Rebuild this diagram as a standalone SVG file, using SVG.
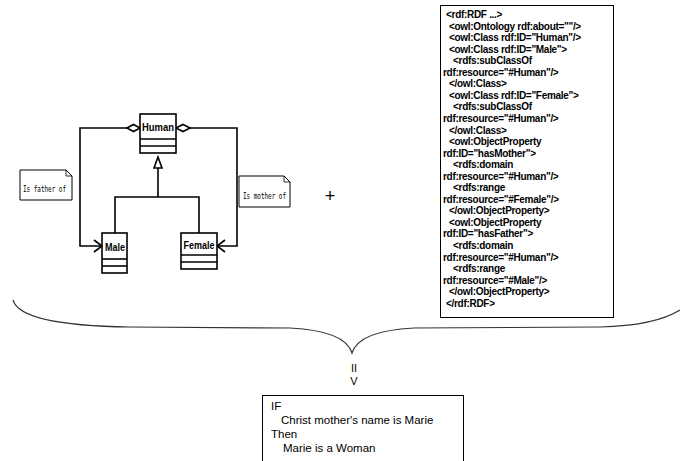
<svg xmlns="http://www.w3.org/2000/svg" width="680" height="461" viewBox="0 0 680 461">
<style>
.uml{fill:#fff;stroke:#000;stroke-width:1.6}
.ln{fill:none;stroke:#000;stroke-width:1.6}
.cls{font-family:"Liberation Sans",Arial,sans-serif;font-size:10px;font-weight:bold;fill:#000;text-anchor:middle}
.note{font-family:"DejaVu Sans Mono","Liberation Mono",monospace;font-size:9.5px;fill:#000}
.rdf{font-family:"Liberation Sans",Arial,sans-serif;font-size:10px;font-weight:bold;letter-spacing:-0.3px;fill:#000}
.rule{font-family:"Liberation Sans",Arial,sans-serif;font-size:11.5px;fill:#000}
</style>
<rect width="680" height="461" fill="#fff"/>

<g id="connectors">
  <!-- aggregation Human -> Male -->
  <polyline class="ln" points="127,128 80,128 80,246 102,246"/>
  <polyline class="ln" points="94,240 102,246 94,252"/>
  <polygon class="uml" points="127,128 133.5,124.5 140,128 133.5,131.5"/>
  <!-- aggregation Human -> Female -->
  <polyline class="ln" points="190,128 237,128 237,246 217,246"/>
  <polyline class="ln" points="225,240 217,246 225,252"/>
  <polygon class="uml" points="176,128 183,124.5 190,128 183,131.5"/>
  <!-- generalization -->
  <polyline class="ln" points="158,168 158,197"/>
  <polyline class="ln" points="115,233 115,197 199,197 199,233"/>
  <polygon class="uml" points="158,157 154,168 162,168"/>
  <!-- brace -->
  <path d="M13,300 C18,318 60,326 130,327 L290,328 C330,330 348,340 352,353 C356,340 374,330 414,328 L600,327 C640,326 664,320 680,310" fill="none" stroke="#333" stroke-width="1.2"/>
</g>

<g id="human">
  <rect class="uml" x="140" y="114" width="36" height="39"/>
  <line class="ln" x1="140" y1="139" x2="176" y2="139"/>
  <line class="ln" x1="140" y1="146" x2="176" y2="146"/>
  <text class="cls" x="158" y="131" textLength="32" lengthAdjust="spacingAndGlyphs">Human</text>
</g>
<g id="male">
  <rect class="uml" x="102" y="233" width="25" height="40"/>
  <line class="ln" x1="102" y1="259" x2="127" y2="259"/>
  <line class="ln" x1="102" y1="266" x2="127" y2="266"/>
  <text class="cls" x="115" y="251" textLength="20" lengthAdjust="spacingAndGlyphs">Male</text>
</g>
<g id="female">
  <rect class="uml" x="181" y="233" width="36" height="36"/>
  <line class="ln" x1="181" y1="255" x2="217" y2="255"/>
  <line class="ln" x1="181" y1="262" x2="217" y2="262"/>
  <text class="cls" x="199" y="249" textLength="31" lengthAdjust="spacingAndGlyphs">Female</text>
</g>
<g id="note-father">
  <path d="M20,170 L66,170 L72,176 L72,200 L20,200 Z" fill="#fff" stroke="#000" stroke-width="1"/>
  <path d="M66,170 L66,176 L72,176" fill="none" stroke="#000" stroke-width="0.8"/>
  <text class="note" x="23" y="192" textLength="43" lengthAdjust="spacingAndGlyphs">Is father of</text>
</g>
<g id="note-mother">
  <path d="M239,176 L284,176 L290,182 L290,207 L239,207 Z" fill="#fff" stroke="#000" stroke-width="1"/>
  <path d="M284,176 L284,182 L290,182" fill="none" stroke="#000" stroke-width="0.8"/>
  <text class="note" x="243" y="199" textLength="43" lengthAdjust="spacingAndGlyphs">Is mother of</text>
</g>
<g id="plus">
  <text x="330" y="202" font-family="Liberation Sans,Arial,sans-serif" font-size="18" text-anchor="middle">+</text>
</g>

<g id="rdf">
  <rect x="440.5" y="5.5" width="173" height="312" fill="#fff" stroke="#000" stroke-width="1"/>
  <text class="rdf">
    <tspan x="446" y="18">&lt;rdf:RDF ...&gt;</tspan>
    <tspan x="449" y="29.5">&lt;owl:Ontology rdf:about=""/&gt;</tspan>
    <tspan x="449" y="41">&lt;owl:Class rdf:ID="Human"/&gt;</tspan>
    <tspan x="449" y="52.6">&lt;owl:Class rdf:ID="Male"&gt;</tspan>
    <tspan x="453" y="64.2">&lt;rdfs:subClassOf</tspan>
    <tspan x="443" y="75.7">rdf:resource="#Human"/&gt;</tspan>
    <tspan x="449" y="87.3">&lt;/owl:Class&gt;</tspan>
    <tspan x="449" y="98.8">&lt;owl:Class rdf:ID="Female"&gt;</tspan>
    <tspan x="453" y="110.4">&lt;rdfs:subClassOf</tspan>
    <tspan x="443" y="121.9">rdf:resource="#Human"/&gt;</tspan>
    <tspan x="449" y="133.5">&lt;/owl:Class&gt;</tspan>
    <tspan x="449" y="145">&lt;owl:ObjectProperty</tspan>
    <tspan x="443" y="156.6">rdf:ID="hasMother"&gt;</tspan>
    <tspan x="453" y="168.1">&lt;rdfs:domain</tspan>
    <tspan x="443" y="179.7">rdf:resource="#Human"/&gt;</tspan>
    <tspan x="453" y="191.2">&lt;rdfs:range</tspan>
    <tspan x="443" y="202.8">rdf:resource="#Female"/&gt;</tspan>
    <tspan x="449" y="214.3">&lt;/owl:ObjectProperty&gt;</tspan>
    <tspan x="449" y="225.9">&lt;owl:ObjectProperty</tspan>
    <tspan x="443" y="237.4">rdf:ID="hasFather"&gt;</tspan>
    <tspan x="453" y="249">&lt;rdfs:domain</tspan>
    <tspan x="443" y="260.5">rdf:resource="#Human"/&gt;</tspan>
    <tspan x="453" y="272.1">&lt;rdfs:range</tspan>
    <tspan x="443" y="283.6">rdf:resource="#Male"/&gt;</tspan>
    <tspan x="449" y="295.2">&lt;/owl:ObjectProperty&gt;</tspan>
    <tspan x="446" y="306.7">&lt;/rdf:RDF&gt;</tspan>
  </text>
</g>

<g id="implies">
  <text x="354" y="372" font-family="Liberation Sans,Arial,sans-serif" font-size="11" text-anchor="middle">II</text>
  <text x="354" y="385" font-family="Liberation Sans,Arial,sans-serif" font-size="11" text-anchor="middle">V</text>
</g>

<g id="rule">
  <rect x="262.5" y="395.5" width="201" height="70" fill="#fff" stroke="#000" stroke-width="1"/>
  <text class="rule">
    <tspan x="271" y="410">IF</tspan>
    <tspan x="281" y="424">Christ mother's name is Marie</tspan>
    <tspan x="271" y="438">Then</tspan>
    <tspan x="283" y="452">Marie is a Woman</tspan>
  </text>
</g>
</svg>
